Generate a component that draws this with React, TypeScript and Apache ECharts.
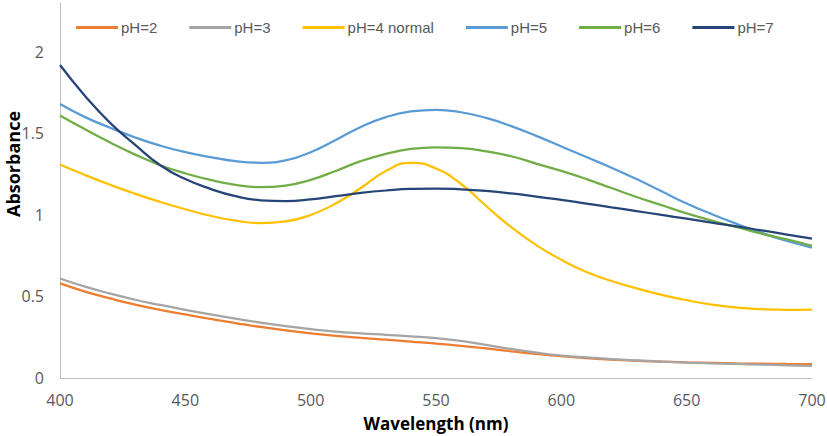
import React, { useEffect, useRef } from "react";
import * as echarts from "echarts";

const wavelengths = [400, 410, 420, 430, 440, 450, 460, 470, 480, 490, 500, 510, 520, 530, 540, 550, 560, 570, 580, 590, 600, 610, 620, 630, 640, 650, 660, 670, 680, 690, 700];

const ph2 = [0.58, 0.53, 0.488, 0.45, 0.418, 0.39, 0.362, 0.337, 0.313, 0.292, 0.274, 0.259, 0.246, 0.235, 0.223, 0.211, 0.197, 0.181, 0.164, 0.148, 0.134, 0.122, 0.113, 0.106, 0.1, 0.096, 0.093, 0.09, 0.088, 0.086, 0.085];
const ph3 = [0.61, 0.56, 0.518, 0.48, 0.448, 0.418, 0.39, 0.364, 0.34, 0.318, 0.3, 0.285, 0.274, 0.265, 0.256, 0.245, 0.227, 0.203, 0.178, 0.156, 0.138, 0.126, 0.116, 0.108, 0.101, 0.095, 0.09, 0.086, 0.082, 0.078, 0.075];
const ph4 = [1.31, 1.245, 1.185, 1.13, 1.08, 1.035, 0.995, 0.965, 0.95, 0.96, 1.0, 1.07, 1.165, 1.27, 1.32, 1.285, 1.19, 1.055, 0.925, 0.815, 0.725, 0.65, 0.595, 0.55, 0.51, 0.477, 0.45, 0.432, 0.422, 0.418, 0.42];
const ph5 = [1.68, 1.6, 1.535, 1.475, 1.425, 1.385, 1.355, 1.33, 1.32, 1.335, 1.385, 1.46, 1.54, 1.6, 1.635, 1.645, 1.63, 1.595, 1.545, 1.485, 1.42, 1.355, 1.29, 1.22, 1.145, 1.07, 1.005, 0.945, 0.89, 0.84, 0.8];
const ph6 = [1.61, 1.525, 1.445, 1.37, 1.305, 1.255, 1.215, 1.185, 1.17, 1.18, 1.215, 1.27, 1.33, 1.375, 1.405, 1.415, 1.41, 1.39, 1.36, 1.315, 1.27, 1.22, 1.165, 1.11, 1.06, 1.01, 0.965, 0.925, 0.885, 0.85, 0.81];
const ph7 = [1.92, 1.73, 1.565, 1.43, 1.305, 1.22, 1.16, 1.115, 1.09, 1.085, 1.095, 1.115, 1.135, 1.15, 1.16, 1.162, 1.157, 1.147, 1.132, 1.113, 1.092, 1.07, 1.047, 1.024, 1.0, 0.977, 0.953, 0.93, 0.905, 0.88, 0.855];

const seriesNames = ["pH=2", "pH=3", "pH=4 normal", "pH=5", "pH=6", "pH=7"];
const seriesValues = [ph2, ph3, ph4, ph5, ph6, ph7];
const seriesColors = ["#ED7D31", "#A5A5A5", "#FFC000", "#5B9BD5", "#70AD47", "#264478"];

const yTitle = "Absorbance";
const xTitle = "Wavelength (nm)";

const FONT = "'Open Sans', 'Noto Sans', sans-serif";
const LEGEND_FONT = "'Liberation Sans', Arial, sans-serif";

export default function App() {
  const ref = useRef<HTMLDivElement>(null);
  useEffect(() => {
    if (!ref.current) return;
    const chart = echarts.init(ref.current, null, { renderer: "svg" });
    chart.setOption({
      animation: false,
      backgroundColor: "#ffffff",
      textStyle: { fontFamily: FONT },
      legend: {
        left: 76,
        top: 20,
        padding: 0,
        itemWidth: 42,
        itemHeight: 3,
        itemGap: 32,
        icon: "rect",
        textStyle: { color: "#595959", fontSize: 15, fontFamily: LEGEND_FONT, padding: [0, 0, 0, -2] },
        data: seriesNames,
      },
      graphic: [
        {
          type: "text",
          x: 13,
          y: 164,
          rotation: Math.PI / 2,
          style: {
            text: yTitle,
            fill: "#000000",
            font: "bold 18px 'Open Sans', sans-serif",
            align: "center",
            verticalAlign: "middle",
          },
        },
      ],
      grid: { left: 60, right: 15, top: 3, bottom: 58, containLabel: false, outerBoundsMode: "none" },
      xAxis: {
        type: "value",
        min: 400,
        max: 700,
        interval: 50,
        name: xTitle,
        nameLocation: "middle",
        nameGap: 37,
        nameTextStyle: { color: "#000000", fontSize: 17, fontWeight: "bold", fontFamily: FONT },
        axisLine: { show: true, lineStyle: { color: "#BFBFBF", width: 1 } },
        axisTick: { show: false },
        splitLine: { show: false },
        axisLabel: { color: "#595959", fontSize: 16, margin: 14, fontFamily: FONT },
      },
      yAxis: {
        type: "value",
        min: 0,
        max: 2.3,
        interval: 0.5,
        axisLine: { show: true, lineStyle: { color: "#BFBFBF", width: 1 } },
        axisTick: { show: false },
        splitLine: { show: false },
        axisLabel: {
          color: "#595959",
          fontSize: 16,
          margin: 16,
          fontFamily: FONT,
          showMaxLabel: false,
          formatter: (v: number) => (Math.abs(v / 0.5 - Math.round(v / 0.5)) < 1e-6 ? String(v) : ""),
        },
      },
      series: seriesNames.map((name, i) => ({
        name,
        type: "line",
        smooth: 0.5,
        symbol: "none",
        showSymbol: false,
        data: wavelengths.map((w, j) => [w, seriesValues[i][j]]),
        lineStyle: { color: seriesColors[i], width: 2.25 },
        itemStyle: { color: seriesColors[i] },
      })),
    });
    return () => chart.dispose();
  }, []);
  return <div ref={ref} style={{ width: 827, height: 436, position: "absolute", left: 0, top: 0 }} />;
}
